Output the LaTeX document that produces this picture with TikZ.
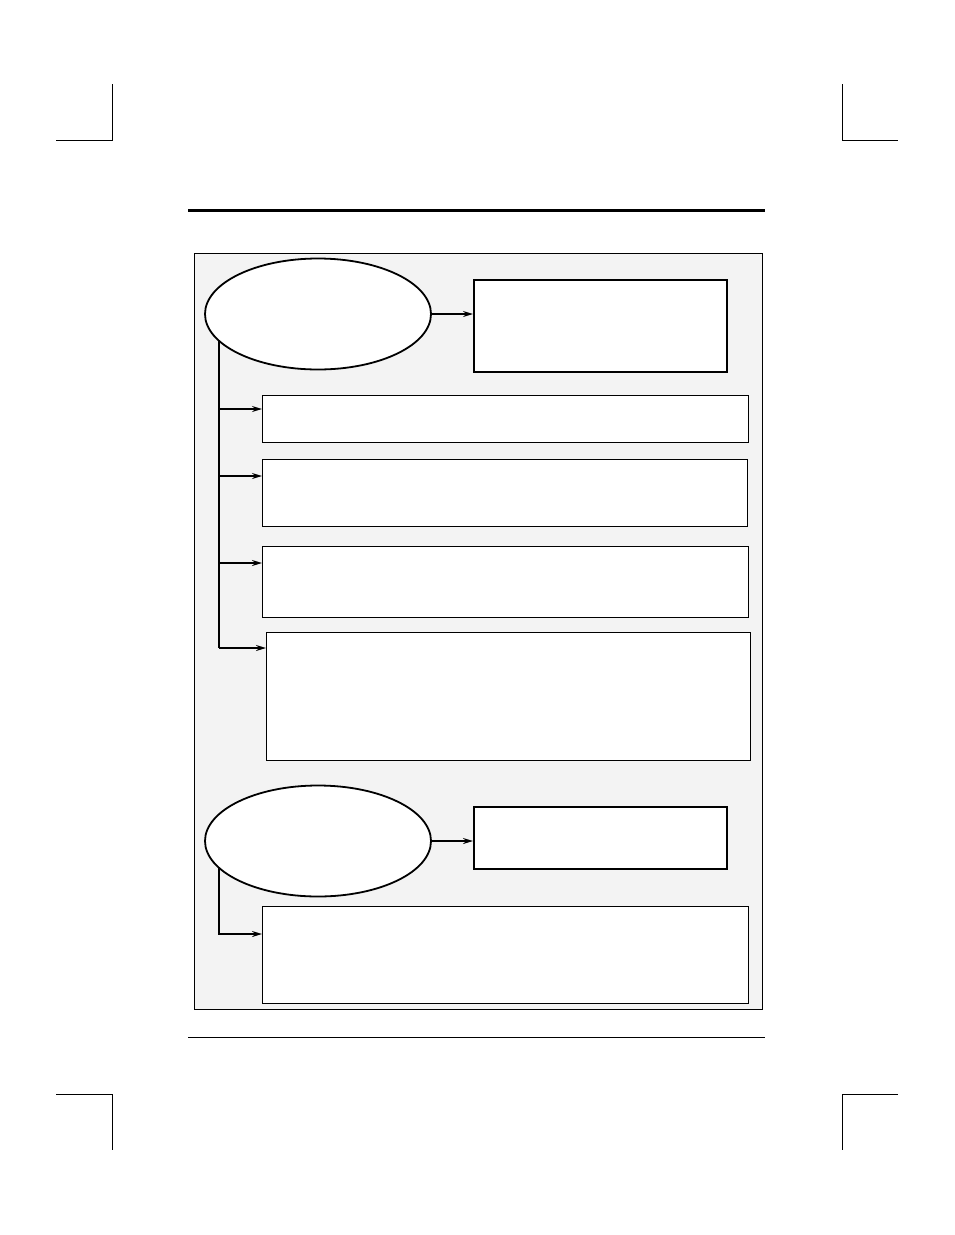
\documentclass[tikz,border=0pt]{standalone}
\usetikzlibrary{arrows.meta,shapes.geometric}
\definecolor{panelgray}{HTML}{F3F3F3}
\begin{document}
\begin{tikzpicture}[x=1pt,y=-1pt,
  crop/.style={line width=0.8pt},
  thinbox/.style={draw, fill=white, line width=1pt, inner sep=0pt, anchor=north west},
  thickbox/.style={draw, fill=white, line width=2.4pt, inner sep=0pt, anchor=north west},
  oval/.style={draw, fill=white, ellipse, line width=1.8pt, inner sep=0pt, minimum width=226pt, minimum height=111pt},
  arr/.style={-{Stealth[length=10pt,width=6pt]}, line width=1.3pt},
  arrb/.style={-{Stealth[length=10pt,width=6pt]}, line width=2.2pt},
  trunk/.style={line width=2pt}]
\useasboundingbox (0,0) rectangle (954,1235);
% crop marks
\draw[crop] (112,84) -- (112,140) -- (56,140);
\draw[crop] (842,84) -- (842,140) -- (898,140);
\draw[crop] (56,1094) -- (112,1094) -- (112,1150);
\draw[crop] (898,1094) -- (842,1094) -- (842,1150);
% rules
\draw[line width=3pt] (188,210) -- (765,210);
\draw[line width=1pt] (188,1037) -- (765,1037);
% panel
\node[draw, fill=panelgray, line width=0.9pt, inner sep=0pt, anchor=north west,
  minimum width=568pt, minimum height=756pt] (panel) at (194,253) {};
% first group
\node[oval] (e1) at (318,314) {};
\node[thickbox, minimum width=253pt, minimum height=92pt] (b1) at (473,279) {};
\node[thinbox, minimum width=486pt, minimum height=47pt] (b2) at (262,395) {};
\node[thinbox, minimum width=485pt, minimum height=67pt] (b3) at (262,459) {};
\node[thinbox, minimum width=486pt, minimum height=71pt] (b4) at (262,546) {};
\node[thinbox, minimum width=484pt, minimum height=128pt] (b5) at (266,632) {};
\draw[arr] (e1.east) -- (b1.west |- e1.east);
\coordinate (t1) at (219,340);
\coordinate (t1end) at (219,648);
\draw[trunk] (t1) -- (t1end);
\draw[arr] (t1 |- 0,409) -- (b2.west |- 0,409);
\draw[arr] (t1 |- 0,476) -- (b3.west |- 0,476);
\draw[arrb] (t1 |- 0,563) -- (b4.west |- 0,563);
\draw[arrb] (t1end) -- (b5.west |- t1end);
% second group
\node[oval] (e2) at (318,841) {};
\node[thickbox, minimum width=253pt, minimum height=62pt] (b6) at (473,806) {};
\node[thinbox, minimum width=486pt, minimum height=97pt] (b7) at (262,906) {};
\draw[arrb] (e2.east) -- (b6.west |- e2.east);
\coordinate (t2) at (219,868);
\coordinate (t2end) at (219,934);
\draw[arrb] (t2) -- (t2end) -- (b7.west |- t2end);
\end{tikzpicture}
\end{document}
